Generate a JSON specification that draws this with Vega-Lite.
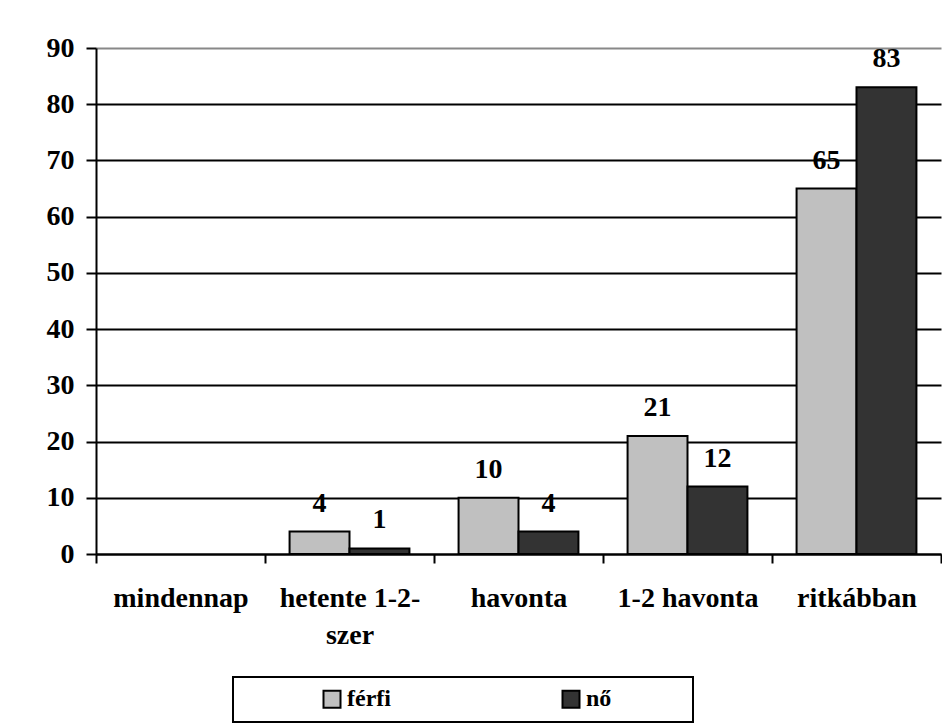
{
  "$schema": "https://vega.github.io/schema/vega-lite/v6.json",
  "width": 845,
  "height": 506,
  "autosize": {"type": "none"},
  "padding": {"left": 96, "top": 48, "right": 1, "bottom": 170},
  "background": "white",
  "config": {
    "font": "Liberation Serif",
    "view": {"stroke": null},
    "legend": {"strokeWidth": 2}
  },
  "data": {
    "values": [
      {"kat": "mindennap", "nem": "férfi", "ertek": 0},
      {"kat": "mindennap", "nem": "nő", "ertek": 0},
      {"kat": "hetente 1-2-szer", "nem": "férfi", "ertek": 4},
      {"kat": "hetente 1-2-szer", "nem": "nő", "ertek": 1},
      {"kat": "havonta", "nem": "férfi", "ertek": 10},
      {"kat": "havonta", "nem": "nő", "ertek": 4},
      {"kat": "1-2 havonta", "nem": "férfi", "ertek": 21},
      {"kat": "1-2 havonta", "nem": "nő", "ertek": 12},
      {"kat": "ritkábban", "nem": "férfi", "ertek": 65},
      {"kat": "ritkábban", "nem": "nő", "ertek": 83}
    ]
  },
  "transform": [{"filter": "datum.ertek > 0"}],
  "encoding": {
    "x": {
      "field": "kat",
      "type": "nominal",
      "sort": ["mindennap", "hetente 1-2-szer", "havonta", "1-2 havonta", "ritkábban"],
      "scale": {"domain": ["mindennap", "hetente 1-2-szer", "havonta", "1-2 havonta", "ritkábban"], "paddingInner": 0, "paddingOuter": 0},
      "axis": {
        "title": null,
        "labelAngle": 0,
        "tickBand": "extent",
        "grid": false,
        "domainColor": "black",
        "domainWidth": 2,
        "tickColor": "black",
        "tickWidth": 2,
        "tickSize": 9,
        "labelFont": "Liberation Serif",
        "labelFontWeight": "bold",
        "labelFontSize": 28,
        "labelColor": "black",
        "labelPadding": 21,
        "labelLineHeight": 37,
        "labelLimit": 300,
        "labelExpr": "datum.label == 'hetente 1-2-szer' ? ['hetente 1-2-', 'szer'] : datum.label"
      }
    },
    "xOffset": {
      "field": "nem",
      "type": "nominal",
      "sort": ["férfi", "nő"],
      "scale": {"paddingInner": 0, "paddingOuter": 0.41}
    },
    "y": {
      "field": "ertek",
      "type": "quantitative",
      "scale": {"domain": [0, 90], "nice": false},
      "axis": {
        "title": null,
        "values": [0, 10, 20, 30, 40, 50, 60, 70, 80, 90],
        "grid": true,
        "gridColor": {"condition": {"test": "datum.value === 90", "value": "#888888"}, "value": "black"},
        "gridWidth": 2,
        "domainColor": "black",
        "domainWidth": 2,
        "tickColor": "black",
        "tickWidth": 2,
        "tickSize": 10,
        "labelFont": "Liberation Serif",
        "labelFontWeight": "bold",
        "labelFontSize": 28,
        "labelColor": "black",
        "labelPadding": 12
      }
    }
  },
  "layer": [
    {
      "mark": {"type": "bar", "stroke": "black", "strokeWidth": 2},
      "encoding": {
        "color": {
          "field": "nem",
          "type": "nominal",
          "scale": {"domain": ["férfi", "nő"], "range": ["#c0c0c0", "#333333"]},
          "legend": {
            "title": "\u00a0",
            "titleOrient": "right",
            "titleFontSize": 1,
            "titlePadding": 72,
            "orient": "none",
            "legendX": 137,
            "legendY": 629,
            "direction": "horizontal",
            "strokeColor": "black",
            "fillColor": "white",
            "padding": 10,
            "symbolType": "square",
            "symbolSize": 289,
            "symbolStrokeColor": "black",
            "symbolStrokeWidth": 2,
            "symbolOpacity": 1,
            "symbolOffset": 77,
            "labelFont": "Liberation Serif",
            "labelFontWeight": "bold",
            "labelFontSize": 24,
            "labelColor": "black",
            "labelOffset": 3,
            "columnPadding": 91,
            "gridAlign": "all"
          }
        }
      }
    },
    {
      "mark": {
        "type": "text",
        "dy": -20,
        "baseline": "alphabetic",
        "font": "Liberation Serif",
        "fontWeight": "bold",
        "fontSize": 28,
        "color": "black"
      },
      "encoding": {"text": {"field": "ertek", "type": "quantitative"}}
    }
  ]
}
